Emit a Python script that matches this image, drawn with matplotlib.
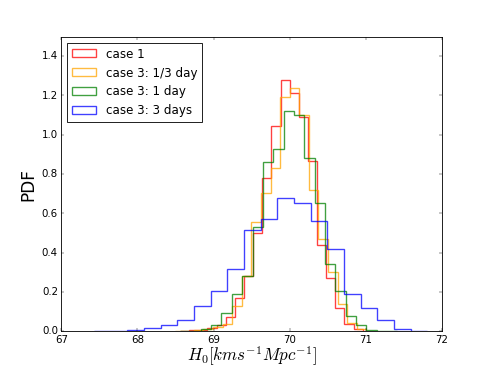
import numpy as np
import matplotlib
matplotlib.use("Agg")
import matplotlib.pyplot as plt

# ── данные (PDF по бинам) ──
red_edges = np.round(68.56 + 0.12 * np.arange(21), 3)
red_pdf = [0.003, 0.005, 0.008, 0.015, 0.03, 0.07, 0.17, 0.28, 0.50, 0.78,
           1.045, 1.28, 1.215, 1.09, 0.865, 0.44, 0.27, 0.12, 0.037, 0.01]

orange_edges = np.round(68.488 + 0.126 * np.arange(21), 3)
orange_pdf = [0.003, 0.003, 0.005, 0.01, 0.02, 0.034, 0.127, 0.28, 0.556, 0.706,
              0.83, 1.19, 1.238, 1.10, 0.72, 0.468, 0.30, 0.137, 0.043, 0.01]

green_edges = np.round(68.56 + 0.136 * np.arange(22), 3)
green_pdf = [0.0, 0.003, 0.009, 0.03, 0.09, 0.19, 0.28, 0.53, 0.859, 0.927,
             1.12, 1.10, 0.88, 0.655, 0.34, 0.204, 0.077, 0.029, 0.005, 0.003, 0.002]

blue_edges = np.round(67.43 + 0.219 * np.arange(21), 3)
blue_pdf = [0.003, 0.003, 0.006, 0.018, 0.03, 0.056, 0.13, 0.204, 0.318, 0.514,
            0.57, 0.677, 0.655, 0.56, 0.42, 0.19, 0.119, 0.056, 0.009, 0.003]

labels = ["case 1", "case 3: 1/3 day", "case 3: 1 day", "case 3: 3 days"]
colors = ["red", "orange", "green", "blue"]

plt.style.use("classic")
fig = plt.figure(figsize=(8, 6), dpi=61.375)
ax = fig.add_subplot(111)

series = [(red_edges, red_pdf), (orange_edges, orange_pdf),
          (green_edges, green_pdf), (blue_edges, blue_pdf)]
for (edges, pdf), lab, col in zip(series, labels, colors):
    centers = 0.5 * (edges[:-1] + edges[1:])
    ax.hist(centers, bins=edges, weights=pdf, histtype="step",
            color=col, lw=1.6, alpha=0.75, label=lab)

ax.set_xlim(67, 72)
ax.set_ylim(0, 1.5)
ax.set_yticks(np.arange(0, 1.41, 0.2))
ax.set_ylabel("PDF", fontsize=20)
ax.set_xlabel(r"$H_0[kms^{-1}Mpc^{-1}]$", fontsize=20, labelpad=-1)
ax.legend(loc="upper left", fontsize=14)

fig.savefig("out.png", dpi=61.375, facecolor="white")
